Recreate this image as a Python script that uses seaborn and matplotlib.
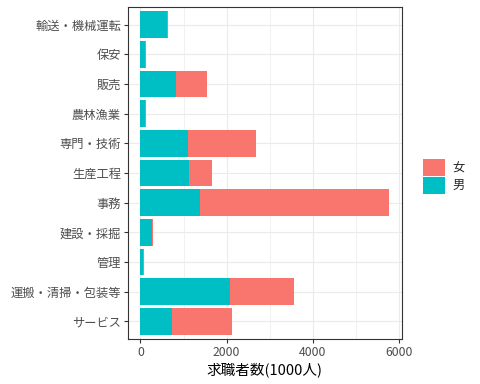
import matplotlib
matplotlib.use("Agg")
import matplotlib.pyplot as plt
import seaborn as sns
import pandas as pd
from matplotlib.ticker import FixedLocator

categories = ["輸送・機械運転", "保安", "販売", "農林漁業", "専門・技術", "生産工程",
              "事務", "建設・採掘", "管理", "運搬・清掃・包装等", "サービス"]
male = [628, 116, 814, 116, 1093, 1116, 1372, 279, 62, 2070, 721]
female = [23, 24, 721, 24, 1581, 535, 4395, 5, 23, 1488, 1395]
sexes = ["女", "男"]
xticks = [0, 2000, 4000, 6000]
colors = {"女": "#F8766D", "男": "#00BFC4"}

sns.set_theme(style="white")
plt.rcParams['font.family'] = ['Noto Sans CJK JP', 'DejaVu Sans']

# stacked: 男 from zero, 女 on top -> draw totals for 女 and male on top
df = pd.DataFrame({
    "職業": categories * 2,
    "性別": ["女"] * len(categories) + ["男"] * len(categories),
    "値": [m + f for m, f in zip(male, female)] + male,
})

fig = plt.figure(figsize=(4.8, 3.84), dpi=100)
ax = fig.add_axes([128 / 480, 1 - 339 / 384, (401.5 - 128) / 480, (339 - 7) / 384])

sns.barplot(data=df, y="職業", x="値", hue="性別", hue_order=sexes, order=categories,
            palette=colors, dodge=False, width=0.9, saturation=1, errorbar=None,
            linewidth=0, ax=ax, legend=True)

ax.set_xlim(-288, 6055)
ax.set_ylim(len(categories) - 1 + 0.6, -0.6)
ax.set_xticks(xticks)
ax.set_xticklabels([str(v) for v in xticks])
ax.xaxis.set_minor_locator(FixedLocator([1000, 3000, 5000]))
ax.set_axisbelow(True)
ax.grid(which='major', color='#EBEBEB', lw=0.8)
ax.grid(which='minor', axis='x', color='#EBEBEB', lw=0.5)
for s in ax.spines.values():
    s.set_visible(True)
    s.set_color('#333333')
    s.set_linewidth(0.8)
ax.tick_params(axis='both', which='major', length=2.7, width=0.8, color='#333333',
               labelcolor='#4D4D4D', labelsize=8.8, pad=2.4,
               bottom=True, left=True)
ax.tick_params(which='minor', length=0)
ax.set_ylabel("")
ax.set_xlabel("求職者数(1000人)", fontsize=10.5, color='black', labelpad=2)

handles, labels = ax.get_legend_handles_labels()
ax.get_legend().remove()
fig.legend(handles, labels, loc='center left', bbox_to_anchor=(422.7 / 480, 1 - 176.4 / 384),
           frameon=False, borderpad=0, borderaxespad=0, fontsize=8.8,
           handlelength=1.8, handleheight=1.72, labelspacing=0.08, handletextpad=0.6)

fig.savefig("out.png", dpi=100)
